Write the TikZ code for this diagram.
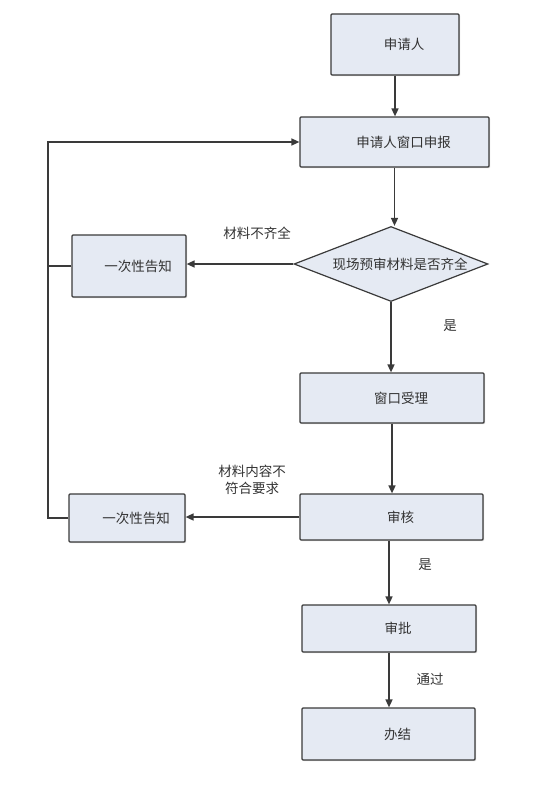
\documentclass[tikz,border=0pt]{standalone}
\usepackage{fontspec}
\newfontfamily\cjk{Noto Sans CJK SC}
\usetikzlibrary{shapes.geometric,arrows.meta,shadows}
\definecolor{linec}{HTML}{3A3A3A}
\definecolor{boxc}{HTML}{E5EAF3}
\definecolor{txtc}{HTML}{333333}
\newcommand{\shifted}[1]{\makebox[0pt]{\hspace{18pt}#1}}
\begin{document}
\begin{tikzpicture}[x=1pt,y=-1pt,
  shad/.style={drop shadow={shadow xshift=1.2pt, shadow yshift=-1.2pt, fill=black!25, opacity=0.6}},
  box/.style={draw=linec, line width=1.2pt, fill=boxc, rounded corners=1pt, inner sep=0pt, text=txtc, font=\cjk\fontsize{13.5}{16}\selectfont, shad},
  decision/.style={diamond, draw=linec, line width=1.2pt, fill=boxc, inner sep=0pt, aspect=2.6, text=txtc, font=\cjk\fontsize{13.5}{16}\selectfont},
  arr/.style={draw=linec, line width=1.5pt, -{Triangle[length=8pt,width=7pt]}},
  ln/.style={draw=linec, line width=1.5pt},
  lbl/.style={text=txtc, font=\cjk\fontsize{13.5}{17}\selectfont, inner sep=0pt, align=center}]
\useasboundingbox (0,0) rectangle (534,792);
\node[box, minimum width=128pt, minimum height=61pt] (a) at (395,44.5) {\shifted{申请人}};
\node[box, minimum width=189pt, minimum height=50pt] (b) at (394.5,142) {\shifted{申请人窗口申报}};
\node[decision, minimum width=194pt, minimum height=75pt] (d) at (391,264) {\shifted{现场预审材料是否齐全}};
\node[box, minimum width=114pt, minimum height=62pt] (n1) at (129,266) {\shifted{一次性告知}};
\node[box, minimum width=184pt, minimum height=50pt] (c) at (392,398) {\shifted{窗口受理}};
\node[box, minimum width=183pt, minimum height=46pt] (e) at (391.5,517) {\shifted{审核}};
\node[box, minimum width=116pt, minimum height=48pt] (n2) at (127,518) {\shifted{一次性告知}};
\node[box, minimum width=174pt, minimum height=47pt] (f) at (389,628.5) {\shifted{审批}};
\node[box, minimum width=173pt, minimum height=52pt] (g) at (388.5,734) {\shifted{办结}};
\coordinate (L) at (48,0);
\node[lbl] (t1) at (257,233) {材料不齐全};
\node[lbl] (t2) at (450,326) {是};
\node[lbl] (t3) at (252,480) {材料内容不\\符合要求};
\node[lbl] (t4) at (425,565) {是};
\node[lbl] (t5) at (430,679) {通过};
\draw[arr] (a.south) -- (a.south |- b.north);
\draw[arr] (b.south) -- (b.south |- d.north);
\draw[arr] (d.west) -- (d.west -| n1.east);
\draw[arr] (d.south) -- (d.south |- c.north);
\draw[arr] (c.south) -- (c.south |- e.north);
\draw[arr] (e.west) -- (e.west -| n2.east);
\draw[arr] (f.north |- e.south) -- (f.north);
\draw[arr] (f.south) -- (f.south |- g.north);
\draw[arr] (n2.west) -- (n2.west -| L) |- (b.west);
\draw[ln] (n1.west) -- (n1.west -| L);
\end{tikzpicture}
\end{document}
